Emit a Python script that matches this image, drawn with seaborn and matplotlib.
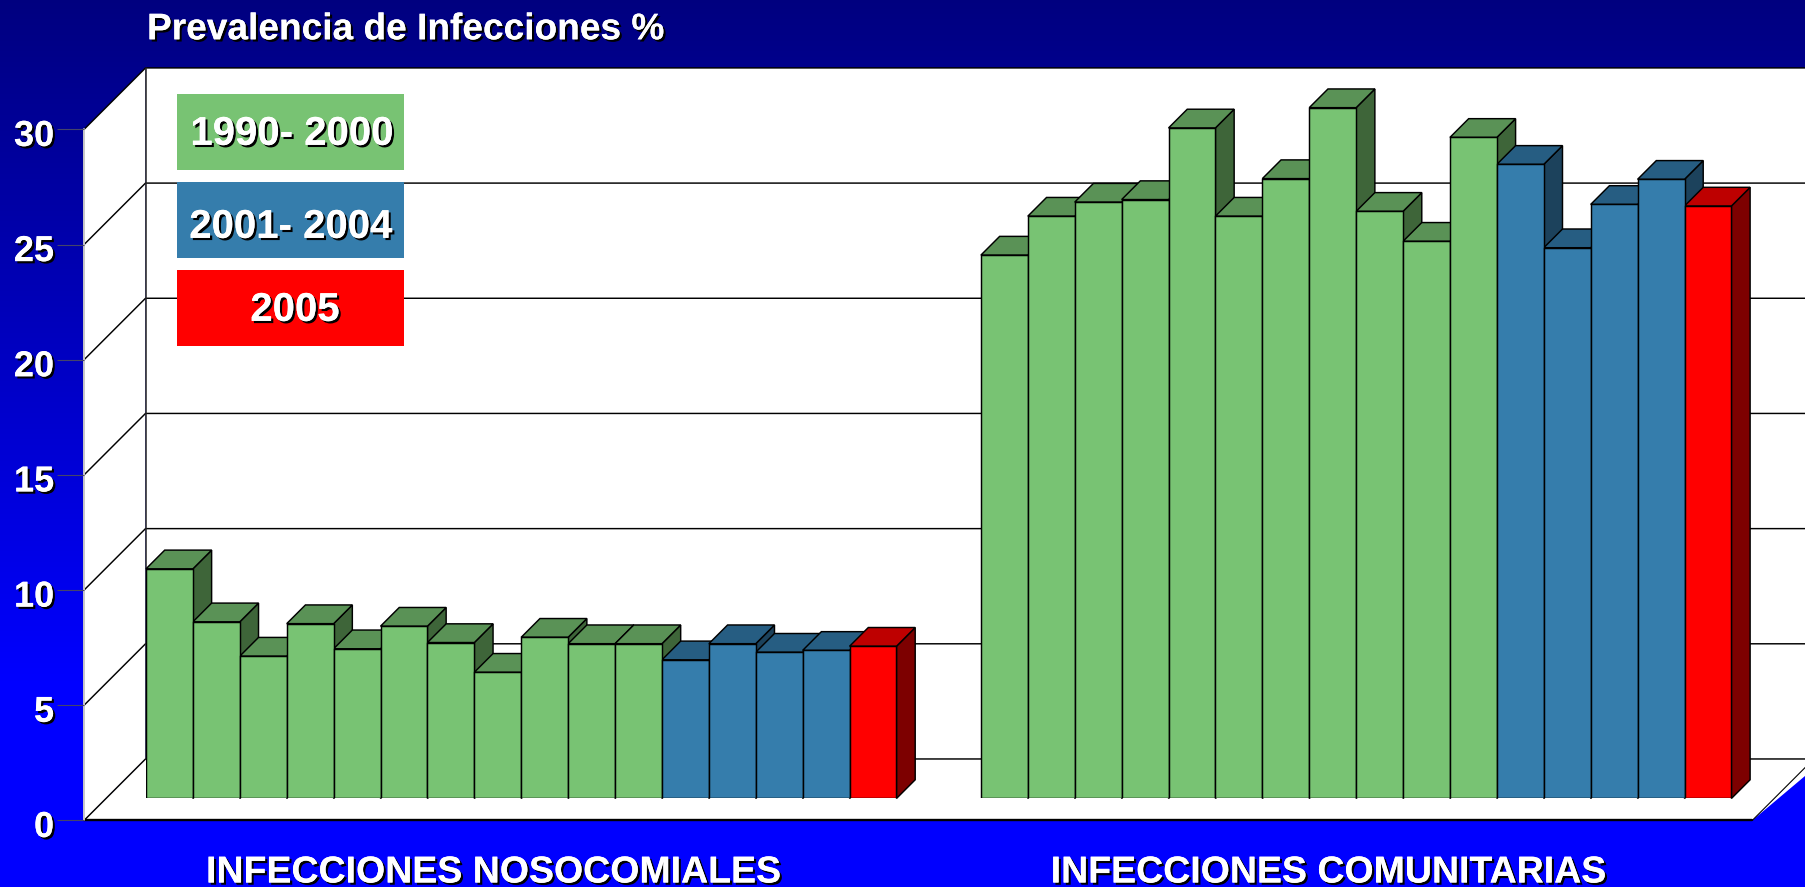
import numpy as np
import pandas as pd
import matplotlib
matplotlib.use("Agg")
import matplotlib.pyplot as plt
import matplotlib.patheffects as pe
from matplotlib.patches import Polygon, Rectangle
from matplotlib.transforms import ScaledTranslation
import seaborn as sns

# ---------- data ----------
GROUPS = ["INFECCIONES NOSOCOMIALES", "INFECCIONES COMUNITARIAS"]
PERIODS = ["1990- 2000", "2001- 2004", "2005"]
PERIOD_COUNTS = [11, 4, 1]
NOSOCOMIALES = [9.97, 7.67, 6.18, 7.59, 6.50, 7.48, 6.77, 5.48, 7.00, 6.72, 6.72,
                6.02, 6.72, 6.35, 6.43, 6.61]
COMUNITARIAS = [23.59, 25.28, 25.89, 26.00, 29.11, 25.28, 26.91, 29.99, 25.49, 24.19, 28.70,
                27.53, 23.91, 25.79, 26.88, 25.72]
Y_TICKS = [0, 5, 10, 15, 20, 25, 30]
TITLE = "Prevalencia de Infecciones %"

# ---------- styles / layout (pixels) ----------
W, H = 1805, 887
FRONT = {"1990- 2000": "#78C373", "2001- 2004": "#357DAC", "2005": "#FF0000"}
TOP = {"1990- 2000": "#5A9256", "2001- 2004": "#265D82", "2005": "#BE0000"}
SIDE = {"1990- 2000": "#3E6539", "2001- 2004": "#1C425C", "2005": "#7D0000"}
FONT = "Liberation Sans"
PX_V = 23.03          # pixels per value unit
BAR_W = 46.9          # pixels per bar
BAR_L, BAR_B = 146.0, 798.5
WALL_X0, WALL_B, DEPTH = 84, 820.5, 61.5
BAR_DEPTH = 18.7
GROUP_GAP = 17.8      # second group's start, in bar widths
LW = 1.05

sns.set_style("white")
plt.rcParams["font.family"] = [FONT, "DejaVu Sans"]

shadow = [pe.withSimplePatchShadow(offset=(1.6, -1.6), shadow_rgbFace="black", alpha=1.0), pe.Normal()]

fig = plt.figure(figsize=((W + 0.2) / 100, (H + 0.2) / 100), dpi=100)


def px_axes(left, right, top, bottom, **kw):
    return fig.add_axes([left / W, 1 - bottom / H, (right - left) / W, (bottom - top) / H], **kw)


# ---------- background and walls ----------
bg = px_axes(0, W, 0, H, zorder=0)
bg.set_xlim(0, W)
bg.set_ylim(H, 0)
bg.axis("off")
ramp = np.zeros((256, 1, 3))
ramp[:, 0, 2] = np.clip(0.5 + 0.5 * np.linspace(0, 1, 256) * H / 680, 0, 1)
bg.imshow(ramp, extent=[0, W, H, 0], aspect="auto", zorder=0, interpolation="bilinear")

back_x = WALL_X0 + DEPTH
far_x = W + 20
front_y = lambda v: WALL_B - v * PX_V
back_y = lambda v: WALL_B - DEPTH - v * PX_V
top_v, low_v = Y_TICKS[-1], Y_TICKS[0]
bg.add_patch(Polygon([(back_x, back_y(top_v)), (far_x, back_y(top_v)), (far_x, back_y(low_v)), (back_x, back_y(low_v))],
                     fc="white", ec="none", zorder=1))
bg.add_patch(Polygon([(WALL_X0, front_y(top_v)), (back_x, back_y(top_v)), (back_x, back_y(low_v)), (WALL_X0, front_y(low_v))],
                     fc="white", ec="none", zorder=1))
bg.add_patch(Polygon([(WALL_X0, front_y(low_v)), (back_x, back_y(low_v)), (far_x, back_y(low_v)), (1752, front_y(low_v))],
                     fc="white", ec="none", zorder=1))
for v in Y_TICKS:
    bg.plot([WALL_X0, back_x, far_x], [front_y(v), back_y(v), back_y(v)], color="black", lw=1.05, zorder=2)
bg.plot([back_x, back_x], [back_y(top_v), back_y(low_v)], color="#222222", lw=1.1, zorder=2)
bg.plot([1752, 1752 + DEPTH], [front_y(low_v), back_y(low_v)], color="black", lw=0.8, zorder=2)
bg.plot([WALL_X0, 1752], [front_y(low_v), front_y(low_v)], color="black", lw=1.7, zorder=3)
bg.plot([WALL_X0, WALL_X0], [front_y(top_v), front_y(low_v)], color="#C8C8C8", lw=1.4, zorder=3)

# ---------- legend boxes ----------
box_tops = [94, 182, 270]
text_xy = [(292, 134), (291, 227), (295, 310)]
for name, ty, (tx, cy) in zip(PERIODS, box_tops, text_xy):
    bg.add_patch(Rectangle((177, ty), 227, 76, fc=FRONT[name], ec="none", zorder=4))
    bg.text(tx, cy, name, color="white", fontsize=28.9, fontweight="bold", family=FONT,
            ha="center", va="center", zorder=5, path_effects=shadow)

bg.text(147, 30, TITLE, color="white", fontsize=26.7, fontweight="bold", family=FONT,
        ha="left", va="center", zorder=5, path_effects=shadow)

# ---------- bars ----------
periods = [p for p, n in zip(PERIODS, PERIOD_COUNTS) for _ in range(n)]
pos_a = np.arange(len(NOSOCOMIALES), dtype=float)
pos_b = np.arange(len(COMUNITARIAS), dtype=float) + GROUP_GAP
df = pd.DataFrame({
    "pos": np.concatenate([pos_a, pos_b]),
    "value": NOSOCOMIALES + COMUNITARIAS,
    "period": periods + periods,
})

ax = px_axes(BAR_L, W, BAR_B - top_v * PX_V, BAR_B, zorder=2)
ax.patch.set_alpha(0)
sns.barplot(data=df, x="pos", y="value", hue="period", hue_order=PERIODS, palette=FRONT,
            native_scale=True, dodge=False, width=1.0, saturation=1, edgecolor="black", linewidth=LW,
            legend=False, zorder=5, ax=ax)
ax.set_xlim(-0.5, -0.5 + (W - BAR_L) / BAR_W)
ax.set_ylim(low_v, top_v)
ax.axis("off")

dx, dy = BAR_DEPTH / BAR_W, BAR_DEPTH / PX_V
rects = sorted([p for p in ax.patches if isinstance(p, Rectangle)], key=lambda r: r.get_x())
for i, (r, name) in enumerate(zip(rects, df["period"])):
    x0, x1, h = r.get_x(), r.get_x() + r.get_width(), r.get_height()
    z = 2 + i * 0.01
    ax.add_patch(Polygon([(x1, 0), (x1 + dx, dy), (x1 + dx, h + dy), (x1, h)], fc=SIDE[name],
                         ec="black", lw=LW, zorder=z, clip_on=False))
    ax.add_patch(Polygon([(x0, h), (x0 + dx, h + dy), (x1 + dx, h + dy), (x1, h)], fc=TOP[name],
                         ec="black", lw=LW, zorder=z, clip_on=False))

# ---------- value axis and group labels ----------
frame = px_axes(WALL_X0, 1752, front_y(top_v), WALL_B, zorder=3)
frame.patch.set_alpha(0)
frame.set_ylim(low_v, top_v)
frame.set_xlim(-0.5 + (WALL_X0 - BAR_L) / BAR_W, -0.5 + (1752 - BAR_L) / BAR_W)
for s in frame.spines.values():
    s.set_visible(False)
frame.set_yticks(Y_TICKS)
frame.set_yticklabels([str(v) for v in Y_TICKS], color="white", fontsize=26, fontweight="bold",
                      family=FONT, path_effects=shadow)
frame.tick_params(axis="y", left=True, length=19.5, width=0.8, color="#44446A", pad=2)
down = ScaledTranslation(0, -3 / 100, fig.dpi_scale_trans)
for lab in frame.get_yticklabels():
    lab.set_transform(lab.get_transform() + down)
frame.set_xticks([pos_a.mean() - 0.6, pos_b.mean() - 0.6])
frame.set_xticklabels(GROUPS, color="white", fontsize=27, fontweight="bold", family=FONT, path_effects=shadow)
frame.tick_params(axis="x", bottom=False, length=0, pad=24.5)
frame.set_xlabel("")
frame.set_ylabel("")

fig.savefig("out.png", dpi=100)
